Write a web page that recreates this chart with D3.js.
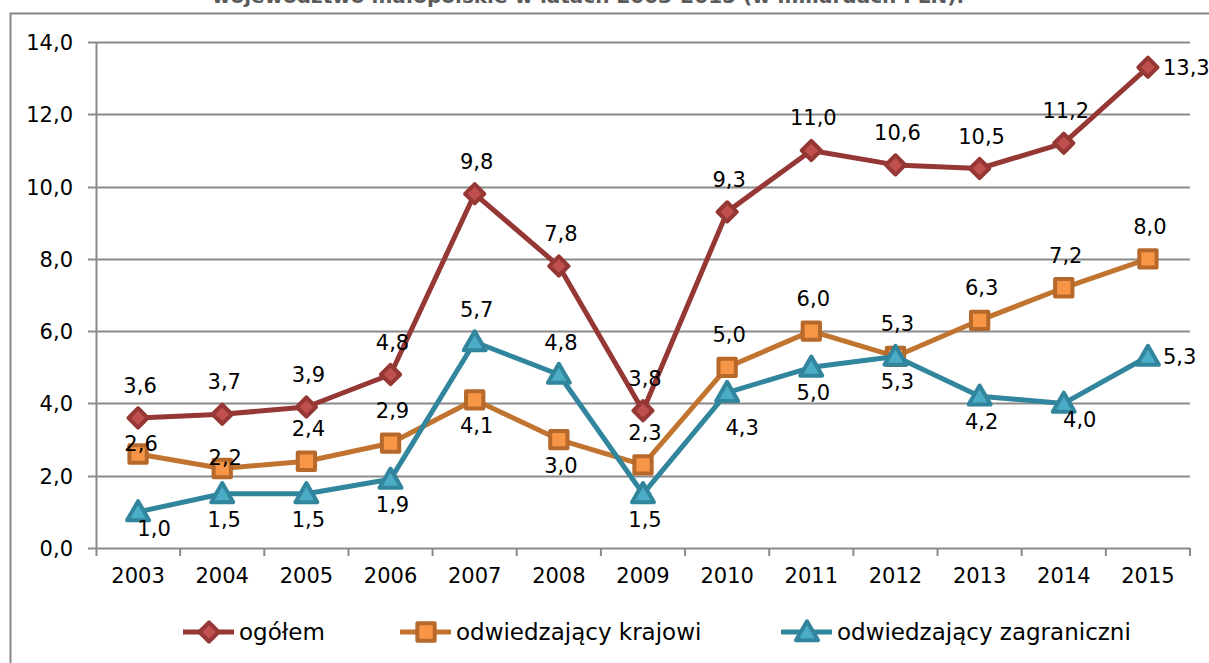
<html>
  <head>
    <meta charset="utf-8">
    <title>Wydatki turystów - małopolskie</title>
    <script src="https://d3js.org/d3.v7.min.js"></script>
    <style>
      body { margin: 0; background: #fff; }
      text { font-family: "DejaVu Sans", sans-serif; fill: #000; }
    </style>
  </head>
  <body>
    <svg id="chart" width="1209" height="663"></svg>
    <script type="text/javascript">

// data
var years = ["2003","2004","2005","2006","2007","2008","2009","2010","2011","2012","2013","2014","2015"];
var ogolem      = [3.6, 3.7, 3.9, 4.8, 9.8, 7.8, 3.8, 9.3, 11.0, 10.6, 10.5, 11.2, 13.3];
var krajowi     = [2.6, 2.2, 2.4, 2.9, 4.1, 3.0, 2.3, 5.0, 6.0, 5.3, 6.3, 7.2, 8.0];
var zagraniczni = [1.0, 1.5, 1.5, 1.9, 5.7, 4.8, 1.5, 4.3, 5.0, 5.3, 4.2, 4.0, 5.3];
var yTicks = [0, 2, 4, 6, 8, 10, 12, 14];
var seriesNames = ["ogółem", "odwiedzający krajowi", "odwiedzający zagraniczni"];
var title = "województwo małopolskie w latach 2003-2015 (w miliardach PLN).";

// where each data label sits (a=above, b=below, r=right, br=below right, bf=far below right, n=on marker)
var labelPlace = [
  ["a","a","a","a","a","a","a","a","a","a","a","a","r"],
  ["n","n","a","a","b","b","a","a","a","a","a","a","a"],
  ["br","b","b","b","a","a","b","bf","b","b","b","br","r"]
];

var svg = d3.select("#chart");

var plotL = 96, plotR = 1190, plotT = 42, plotB = 548;

var x = d3.scaleBand().domain(years).range([plotL, plotR]);
var y = d3.scaleLinear().domain([0, 14]).range([plotB, plotT]);
var cx = function(d) { return x(d) + x.bandwidth() / 2; };
var fmt = function(v) { return v.toFixed(1).replace(".", ","); };

// cut-off title and outer frame
svg.append("text")
  .attr("x", 588).attr("y", 3)
  .attr("text-anchor", "middle")
  .style("font-weight", "bold")
  .style("font-size", "20px")
  .style("fill", "#5a5a5a")
  .text(title);

svg.append("path")
  .attr("d", "M1209,13.5H10.5V663")
  .attr("fill", "none")
  .attr("stroke", "#868686")
  .attr("stroke-width", 2);

// gridlines
svg.append("g")
  .selectAll("line")
  .data(yTicks)
  .enter().append("line")
    .attr("x1", plotL - 8).attr("x2", plotR)
    .attr("y1", function(d) { return Math.round(y(d)) + 0.5; })
    .attr("y2", function(d) { return Math.round(y(d)) + 0.5; })
    .attr("stroke", "#8a8a8a")
    .attr("stroke-width", 2);

// y axis
var yAxis = svg.append("g")
  .attr("transform", "translate(" + plotL + ",0)")
  .call(d3.axisLeft(y).tickValues(yTicks).tickFormat(fmt).tickSize(0).tickPadding(23));
yAxis.select(".domain").remove();
yAxis.selectAll("text").style("font-size", "21px").attr("dy", "0.36em");

svg.append("line")
  .attr("x1", plotL + 0.5).attr("x2", plotL + 0.5)
  .attr("y1", plotT).attr("y2", plotB + 8)
  .attr("stroke", "#8a8a8a").attr("stroke-width", 2);

// x axis
var xAxis = svg.append("g")
  .attr("transform", "translate(0," + plotB + ")")
  .call(d3.axisBottom(x).tickSize(0).tickPadding(20));
xAxis.select(".domain").remove();
xAxis.selectAll("text").style("font-size", "21px");

svg.append("g")
  .selectAll("line")
  .data(years.slice(1).concat(["end"]))
  .enter().append("line")
    .attr("x1", function(d) { return d == "end" ? plotR : x(d); })
    .attr("x2", function(d) { return d == "end" ? plotR : x(d); })
    .attr("y1", plotB).attr("y2", plotB + 8)
    .attr("stroke", "#8a8a8a").attr("stroke-width", 2);

// series styling
var styles = [
  {line: "#953735", fill: "#C0504D", edge: "#953735", shape: d3.symbolSquare, rot: 45, size: 185},
  {line: "#C0742F", fill: "#F79646", edge: "#B7692C", shape: d3.symbolSquare, rot: 0, size: 300},
  {line: "#31859C", fill: "#4BACC6", edge: "#31859C", shape: d3.symbolTriangle, rot: 0, size: 210}
];
var allSeries = [ogolem, krajowi, zagraniczni];

function drawMarker(g, s, px, py) {
  var shift = s.shape == d3.symbolTriangle ? 2 : 0;
  g.append("path")
    .attr("d", d3.symbol().type(s.shape).size(s.size)())
    .attr("transform", "translate(" + px + "," + (py + shift) + ") rotate(" + s.rot + ")")
    .attr("fill", s.fill)
    .attr("stroke", s.edge)
    .attr("stroke-width", 4)
    .attr("stroke-linejoin", "round");
}

var line = d3.line()
  .x(function(d, i) { return cx(years[i]); })
  .y(function(d) { return y(d); });

allSeries.forEach(function(vals, k) {
  var s = styles[k];
  var g = svg.append("g");
  g.append("path")
    .datum(vals)
    .attr("d", line)
    .attr("fill", "none")
    .attr("stroke", s.line)
    .attr("stroke-width", 5)
    .attr("stroke-linejoin", "round");
  vals.forEach(function(v, i) { drawMarker(g, s, cx(years[i]), y(v)); });
});

// data labels on top
var offsets = {
  a:  {dx: 2,  dy: -25, anchor: "middle"},
  b:  {dx: 2,  dy: 33,  anchor: "middle"},
  r:  {dx: 15, dy: 8,   anchor: "start"},
  br: {dx: 16, dy: 24,  anchor: "middle"},
  bf: {dx: 15, dy: 42,  anchor: "middle"},
  n:  {dx: 3,  dy: -3,  anchor: "middle"}
};
allSeries.forEach(function(vals, k) {
  svg.append("g")
    .selectAll("text")
    .data(vals)
    .enter().append("text")
      .attr("x", function(d, i) { return cx(years[i]) + offsets[labelPlace[k][i]].dx; })
      .attr("y", function(d, i) { return y(d) + offsets[labelPlace[k][i]].dy; })
      .attr("text-anchor", function(d, i) { return offsets[labelPlace[k][i]].anchor; })
      .style("font-size", "21px")
      .text(fmt);
});

// legend
var legendX = [183, 400, 781];
var legend = svg.append("g");
seriesNames.forEach(function(name, k) {
  var s = styles[k];
  var lx = legendX[k], ly = 632;
  legend.append("line")
    .attr("x1", lx).attr("x2", lx + 51)
    .attr("y1", ly).attr("y2", ly)
    .attr("stroke", s.line).attr("stroke-width", 5);
  drawMarker(legend, s, lx + 26, ly);
  legend.append("text")
    .attr("x", lx + 56).attr("y", ly + 8)
    .style("font-size", "23px")
    .text(name);
});

    </script>
  </body>
</html>
